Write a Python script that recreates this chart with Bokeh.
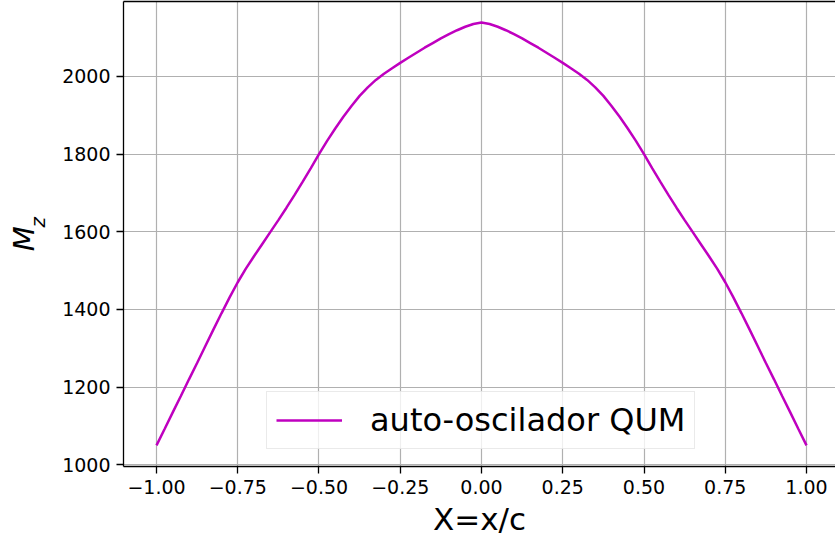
from bokeh.plotting import figure
from bokeh.models import (Range1d, FixedTicker, LinearAxis, Legend, LegendItem,
                          Title)
from bokeh.embed import file_html
from bokeh.resources import INLINE

# ---- data -------------------------------------------------------------
x_vals = [-1.000, -0.975, -0.950, -0.925, -0.900, -0.875, -0.850, -0.825,
          -0.800, -0.775, -0.750, -0.725, -0.700, -0.675, -0.650, -0.625,
          -0.600, -0.575, -0.550, -0.525, -0.500, -0.475, -0.450, -0.425,
          -0.400, -0.375, -0.350, -0.325, -0.300, -0.275, -0.250, -0.225,
          -0.200, -0.175, -0.150, -0.125, -0.100, -0.075, -0.050, -0.025,
          0.000, 0.025, 0.050, 0.075, 0.100, 0.125, 0.150, 0.175, 0.200,
          0.225, 0.250, 0.275, 0.300, 0.325, 0.350, 0.375, 0.400, 0.425,
          0.450, 0.475, 0.500, 0.525, 0.550, 0.575, 0.600, 0.625, 0.650,
          0.675, 0.700, 0.725, 0.750, 0.775, 0.800, 0.825, 0.850, 0.875,
          0.900, 0.925, 0.950, 0.975, 1.000]
mz_vals = [1050, 1092, 1135, 1177, 1220, 1262, 1305, 1348,
           1390, 1431, 1470, 1505, 1537, 1568, 1599, 1630,
           1662, 1695, 1729, 1764, 1800, 1834, 1866, 1896,
           1924, 1950, 1972, 1991, 2007, 2021, 2035, 2048,
           2061, 2074, 2086, 2098, 2109, 2119, 2128, 2135,
           2139, 2135, 2128, 2119, 2109, 2098, 2086, 2074, 2061,
           2048, 2035, 2021, 2007, 1991, 1972, 1950, 1924, 1896,
           1866, 1834, 1800, 1764, 1729, 1695, 1662, 1630, 1599,
           1568, 1537, 1505, 1470, 1431, 1390, 1348, 1305, 1262,
           1220, 1177, 1135, 1092, 1050]
series_name = "auto-oscilador QUM"

x_ticks = [-1.0, -0.75, -0.5, -0.25, 0.0, 0.25, 0.5, 0.75, 1.0]
x_tick_labels = ["\u22121.00", "\u22120.75", "\u22120.50", "\u22120.25",
                 "0.00", "0.25", "0.50", "0.75", "1.00"]
y_ticks = [1000, 1200, 1400, 1600, 1800, 2000]
y_tick_labels = ["1000", "1200", "1400", "1600", "1800", "2000"]
x_title = "X=x/c"
y_title_main = "M"
y_title_sub = "z"

FONT = "DejaVu Sans"

p = figure(width=835, height=546,
           x_range=Range1d(-1.1015, 1.0892), y_range=Range1d(995.5, 2193),
           output_backend="svg", toolbar_location=None,
           min_border_left=123, min_border_right=0,
           min_border_top=1, min_border_bottom=80)
p.background_fill_color = "white"
p.border_fill_color = "white"
p.outline_line_color = None

# grid
for g in (p.xgrid, p.ygrid):
    g.grid_line_color = "#b0b0b0"
    g.grid_line_width = 1.2

p.xaxis.ticker = FixedTicker(ticks=x_ticks)
p.yaxis.ticker = FixedTicker(ticks=y_ticks)
p.xaxis.major_label_overrides = dict(zip(x_ticks, x_tick_labels))
p.yaxis.major_label_overrides = dict(zip(y_ticks, y_tick_labels))

for ax in (p.xaxis, p.yaxis):
    ax.axis_line_color = "black"
    ax.axis_line_width = 1.3
    ax.major_tick_line_color = "black"
    ax.major_tick_line_width = 1.3
    ax.major_tick_out = 7
    ax.major_tick_in = 0
    ax.minor_tick_line_color = None
    ax.major_label_text_font = FONT
    ax.major_label_text_font_size = "19px"
    ax.major_label_text_color = "black"
    ax.major_label_standoff = 6

p.xaxis.axis_label = x_title
p.xaxis.axis_label_text_font = FONT
p.xaxis.axis_label_text_font_size = "31px"
p.xaxis.axis_label_text_font_style = "normal"
p.xaxis.axis_label_text_color = "black"
p.xaxis.axis_label_standoff = 4

# top spine
top = LinearAxis(major_tick_line_color=None, minor_tick_line_color=None,
                 major_label_text_font_size="0px", axis_line_color="black",
                 axis_line_width=1.3, major_label_standoff=0,
                 major_tick_out=0, major_tick_in=0, ticker=FixedTicker(ticks=[]))
p.add_layout(top, "above")

r = p.line(x_vals, mz_vals, line_color="#bf00bf", line_width=2.5)

legend = Legend(items=[LegendItem(label=series_name, renderers=[r])],
                location=(143, 17), orientation="vertical",
                label_text_font=FONT, label_text_font_size="32px",
                label_text_color="black",
                glyph_width=66, glyph_height=24, label_standoff=28,
                padding=9, spacing=0, margin=0,
                border_line_color="#d6d6d6", border_line_width=1.2,
                background_fill_color="white", background_fill_alpha=0.8)
p.add_layout(legend)

# y-axis title  M_z : subscript as a title next to the tick labels,
# the M as the label of an empty outer axis pulled in towards it
p.add_layout(Title(text=y_title_sub, align="left", offset=239, standoff=20,
                   text_font=FONT, text_font_size="20px",
                   text_font_style="italic", text_color="black"), "left")
m_axis = LinearAxis(axis_label=y_title_main + "\u00a0", axis_label_standoff=-27,
                    axis_label_text_font=FONT, axis_label_text_font_size="29px",
                    axis_label_text_font_style="italic",
                    axis_label_text_color="black",
                    axis_line_color=None, major_tick_line_color=None,
                    minor_tick_line_color=None,
                    major_label_text_font_size="0px", major_label_standoff=0,
                    major_tick_out=0, major_tick_in=0,
                    ticker=FixedTicker(ticks=[]))
p.add_layout(m_axis, "left")

open("out.html", "w").write(file_html(p, INLINE))
